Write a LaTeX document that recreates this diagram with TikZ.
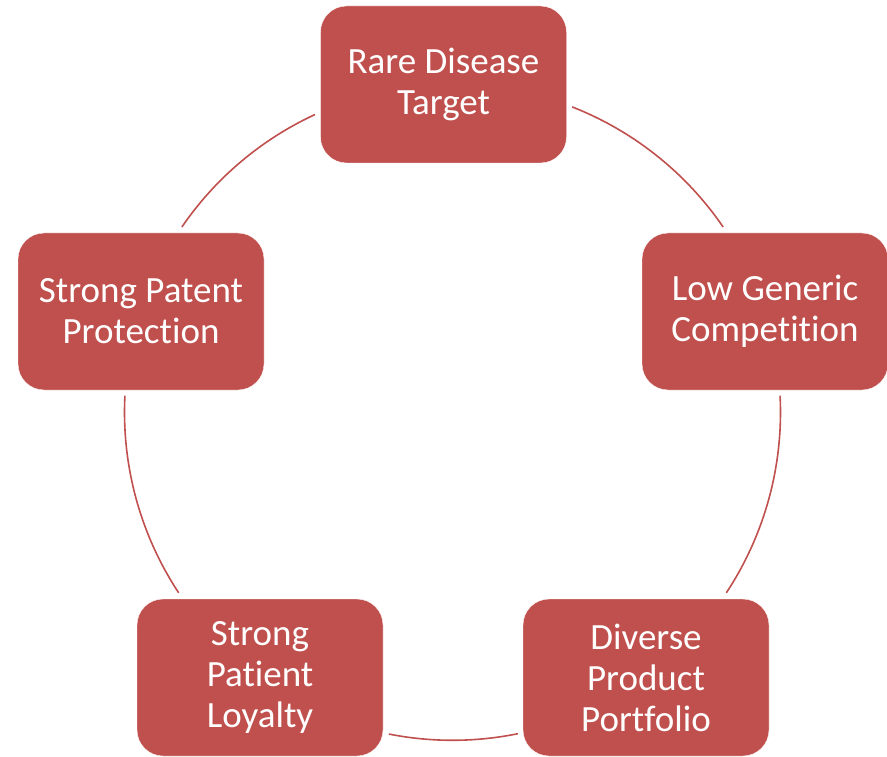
\documentclass[tikz,border=0pt]{standalone}
\usepackage{fontspec}
\setmainfont[Ligatures = NoCommon]{Carlito}
\usepackage{tikz}

\definecolor{cycred}{HTML}{C0504D}

\tikzset{
    box/.style  = {draw = white, fill = cycred, rounded corners = 26pt,
                   minimum width = 246pt, minimum height = 157pt, inner sep = 0pt,
                   align = center, text = white, font = \fontsize{37}{41}\selectfont},
    link/.style = {draw = cycred, line width = 1.6pt},
}

\begin{document}
\begin{tikzpicture}[x = 1pt, y = -1pt]
        \useasboundingbox (0, 0) rectangle (887, 757);
        \coordinate (c) at (452.5, 412.3);

        \node (1) [box] at (443.5, 84.5) {Rare Disease\\Target};
        \node (2) [box] at (765, 311.5)  {Low Generic\\Competition};
        \node (3) [box] at (646, 677.5)  {Diverse\\Product\\Portfolio};
        \node (4) [box] at (260, 677.5)  {Strong\\Patient\\Loyalty};
        \node (5) [box] at (141, 311.5)  {Strong Patent\\Protection};

        % arcs of the cycle, between the boxes
        \foreach \a/\b in {-68.6/-34.4, -2.9/33.4, 78.5/101.2, 146.6/182.9, 214.4/245.2}
            \draw[link] ([shift = {(\a:328)}] c) arc[start angle = \a, end angle = \b, radius = 328];
        
    \end{tikzpicture}
\end{document}
